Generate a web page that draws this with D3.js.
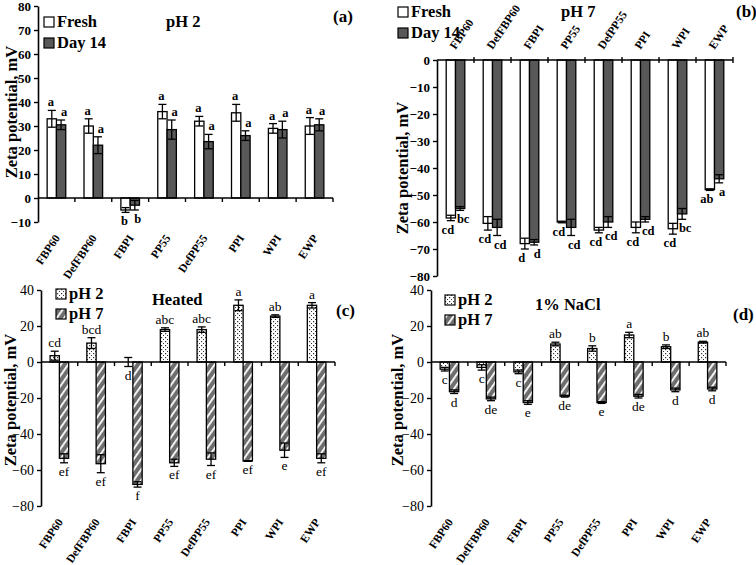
<!DOCTYPE html>
<html><head><meta charset="utf-8">
<script src="https://cdn.jsdelivr.net/npm/d3@7"></script>
<style>
body{margin:0;background:#fff;}
svg{font-family:"Liberation Serif","Times New Roman",serif;}
svg text{fill:#000;}
</style></head>
<body>
<svg id="c" width="756" height="565"></svg>
<script>
const categories = ["FBP60","DefFBP60","FBPI","PP55","DefPP55","PPI","WPI","EWP"];

// Panel (a) pH 2 storage
const aFresh    = [33, 30, -5, 36, 32, 35.5, 29, 30];
const aFreshErr = [3.5, 3, 1, 3, 2, 3.5, 2, 3.5];
const aDay14    = [30.5, 22, -3, 28.5, 23.5, 26, 28.5, 30.5];
const aDay14Err = [2, 3.5, 2, 4, 3, 2, 3.5, 2.5];
const aFreshLet = ["a","a","b","a","a","a","a","a"];
const aDayLet   = ["a","a","b","a","a","a","a","a"];

// Panel (b) pH 7 storage
const bFresh    = [-58.5, -60.5, -68, -60, -63, -62, -62.5, -48];
const bFreshErr = [1, 2.5, 2, 0.3, 1, 2, 2, 0.3];
const bDay14    = [-55, -62, -67.5, -62, -60, -59, -57, -44];
const bDay14Err = [0.7, 3, 1, 3, 2, 1, 2, 1.5];
const bFreshLet = ["cd","cd","d","cd","cd","cd","cd","ab"];
const bDayLet   = ["bc","cd","d","cd","cd","cd","bc","a"];

// Panel (c) heated
const cPH2     = [3.5, 10.5, 0, 18, 18, 31.5, 25.5, 31.5];
const cPH2Err  = [2.5, 3, 2.5, 1, 1.5, 3, 0.7, 1.5];
const cPH7     = [-53.5, -56.5, -68, -56, -54, -55, -49, -53.5];
const cPH7Err  = [2.5, 5, 1.5, 2, 3.5, 0.2, 4, 2.5];
const cPH2Let  = ["cd","bcd","d","abc","abc","a","ab","a"];
const cPH7Let  = ["ef","ef","f","ef","ef","ef","e","ef"];

// Panel (d) 1% NaCl
const dPH2     = [-4, -3, -5.5, 10, 7.5, 15, 8.5, 11];
const dPH2Err  = [1, 1.5, 1, 1, 1.5, 1.5, 1, 0.5];
const dPH7     = [-16.5, -20.5, -22.5, -19, -22.5, -19, -15.5, -15];
const dPH7Err  = [1, 1, 1, 0.5, 0.5, 1, 1, 1];
const dPH2Let  = ["c","c","c","ab","b","a","b","ab"];
const dPH7Let  = ["d","de","e","de","e","de","d","d"];

const ticksAB_a = [-10,0,10,20,30,40,50,60,70,80];
const ticksAB_b = [-80,-70,-60,-50,-40,-30,-20,-10,0];
const ticksCD   = [-80,-60,-40,-20,0,20,40];

const svg = d3.select("#c");
const defs = svg.append("defs");
// dotted pattern
const pd = defs.append("pattern").attr("id","dots").attr("patternUnits","userSpaceOnUse")
  .attr("width",4).attr("height",4);
pd.append("rect").attr("width",4).attr("height",4).attr("fill","#fff");
pd.append("rect").attr("x",1).attr("y",1).attr("width",1.2).attr("height",1.2).attr("fill","#333");
pd.append("rect").attr("x",3).attr("y",3).attr("width",1.2).attr("height",1.2).attr("fill","#333");
// stripe pattern
const ps = defs.append("pattern").attr("id","stripes").attr("patternUnits","userSpaceOnUse")
  .attr("width",6).attr("height",6).attr("patternTransform","rotate(35)");
ps.append("rect").attr("width",6).attr("height",6).attr("fill","#6e6e6e");
ps.append("rect").attr("x",0).attr("width",1.8).attr("height",6).attr("fill","#fff");

function panel(o){
  const g = svg.append("g");
  const x = d3.scaleBand().domain(categories).range([o.x0,o.x1]).paddingInner(0).paddingOuter(0);
  const y = d3.scaleLinear().domain(o.domain).range(o.yrange);
  const bw = 9.3;
  const sub = d3.scaleBand().domain([0,1]).range([-bw, bw]);
  const tickFont = o.boldTicks ? "bold" : "normal";
  // y axis
  const ya = g.append("g").attr("transform",`translate(${o.x0},0)`)
    .call(d3.axisLeft(y).tickValues(o.ticks).tickSize(4).tickSizeOuter(0).tickPadding(3));
  ya.attr("font-family",null);
  ya.select(".domain").attr("stroke","#000").attr("stroke-width",1.6);
  ya.selectAll("text").attr("font-size",o.tickSize).attr("font-weight",tickFont)
    .attr("font-family","Liberation Serif").attr("fill","#000");
  ya.selectAll("line").attr("stroke-width",1.4);
  // bars
  o.series.forEach((s,si)=>{
    s.vals.forEach((v,i)=>{
      const xc = x(categories[i]) + x.bandwidth()/2;
      const bx = xc + sub(si);
      const y0 = y(0), y1 = y(v);
      g.append("rect").attr("x",bx).attr("width",sub.bandwidth())
        .attr("y",Math.min(y0,y1)).attr("height",Math.abs(y1-y0))
        .attr("fill",s.fill).attr("stroke","#000").attr("stroke-width",1.3);
      const e = s.err[i];
      const cx = bx + sub.bandwidth()/2;
      const eg = g.append("g").attr("stroke","#000").attr("stroke-width",1.3);
      eg.append("line").attr("x1",cx).attr("x2",cx).attr("y1",y(v-e)).attr("y2",y(v+e));
      eg.append("line").attr("x1",cx-4).attr("x2",cx+4).attr("y1",y(v-e)).attr("y2",y(v-e));
      eg.append("line").attr("x1",cx-4).attr("x2",cx+4).attr("y1",y(v+e)).attr("y2",y(v+e));
      // letters
      const up = v >= 0.5;
      const ly = up ? y(v+e) - 4 : y(v-e) + 13;
      g.append("text").attr("x",cx + (o.letterDx?o.letterDx[si]:0)).attr("y",ly)
        .attr("text-anchor","middle").attr("font-size",o.letterSize).attr("fill","#000")
        .attr("font-weight",o.boldLetters?"bold":"normal").text(s.letters[i]);
    });
  });
  // x axis at zero
  const xa = g.append("g").attr("transform",`translate(0,${y(0)})`);
  xa.append("line").attr("x1",o.x0).attr("x2",o.x1).attr("stroke","#000").attr("stroke-width",1.6);
  categories.forEach((c,i)=>{
    const xt = x(c) + x.bandwidth();
    xa.append("line").attr("x1",xt).attr("x2",xt).attr("y1",o.labelsTop?-3:0).attr("y2",o.labelsTop?3:4)
      .attr("stroke","#000").attr("stroke-width",1.4);
  });
  // category labels
  categories.forEach((c,i)=>{
    const xc = x(c) + x.bandwidth()/2;
    if(o.labelsTop){
      g.append("text").attr("transform",`translate(${xc},${y(0)-10}) rotate(-56)`)
        .attr("text-anchor","start").attr("font-size",11.5).attr("font-weight","bold").attr("fill","#000").text(c);
    } else {
      g.append("text").attr("transform",`translate(${xc+4},${o.yrange[0]+16}) rotate(-56)`)
        .attr("text-anchor","end").attr("font-size",11.5).attr("font-weight","bold").attr("fill","#000").text(c);
    }
  });
  // y title
  g.append("text").attr("transform",`translate(${o.ytx},${o.yty}) rotate(-90)`)
    .attr("text-anchor","middle").attr("font-size",16.5).attr("font-weight","bold").attr("fill","#000").text("Zeta potential, mV");
  // legend
  o.series.forEach((s,si)=>{
    const ly = o.leg[1] + si*o.legStep;
    g.append("rect").attr("x",o.leg[0]).attr("y",ly-10).attr("width",10).attr("height",10)
      .attr("fill",s.fill).attr("stroke","#000").attr("stroke-width",1.2);
    g.append("text").attr("x",o.leg[0]+13).attr("y",ly).attr("font-size",16.5)
      .attr("font-weight","bold").attr("fill","#000").text(s.name);
  });
  g.append("text").attr("x",o.title[0]).attr("y",o.title[1]).attr("font-size",16.5)
    .attr("font-weight","bold").attr("fill","#000").text(o.titleText);
  g.append("text").attr("x",o.tag[0]).attr("y",o.tag[1]).attr("font-size",17)
    .attr("font-weight","bold").attr("fill","#000").text(o.tagText);
}

const dark = "#585858";
panel({x0:38,x1:333,domain:[-10,80],yrange:[222,6],ticks:ticksAB_a,boldTicks:true,tickSize:13,
  boldLetters:true,letterSize:12.5,letterDx:[-1,3],
  series:[{name:"Fresh",vals:aFresh,err:aFreshErr,fill:"#fff",letters:aFreshLet},
          {name:"Day 14",vals:aDay14,err:aDay14Err,fill:dark,letters:aDayLet}],
  ytx:17,yty:112,leg:[44,27],legStep:21,title:[166,27],titleText:"pH 2",tag:[333,22],tagText:"(a)"});
panel({x0:437,x1:733,domain:[-80,0],yrange:[276,60],ticks:ticksAB_b,boldTicks:true,tickSize:13,
  boldLetters:true,letterSize:12.5,letterDx:[-3,3],labelsTop:true,
  series:[{name:"Fresh",vals:bFresh,err:bFreshErr,fill:"#fff",letters:bFreshLet},
          {name:"Day 14",vals:bDay14,err:bDay14Err,fill:dark,letters:bDayLet}],
  ytx:408,yty:168,leg:[398,17],legStep:21,title:[561,17],titleText:"pH 7",tag:[736,17],tagText:"(b)"});
panel({x0:41,x1:335,domain:[-80,40],yrange:[506,290],ticks:ticksCD,boldTicks:false,tickSize:14,
  boldLetters:false,letterSize:13.5,
  series:[{name:"pH 2",vals:cPH2,err:cPH2Err,fill:"url(#dots)",letters:cPH2Let},
          {name:"pH 7",vals:cPH7,err:cPH7Err,fill:"url(#stripes)",letters:cPH7Let}],
  ytx:16,yty:400,leg:[56,299],legStep:20,title:[152,305],titleText:"Heated",tag:[336,316],tagText:"(c)"});
panel({x0:431,x1:726,domain:[-80,40],yrange:[506,290],ticks:ticksCD,boldTicks:false,tickSize:14,
  boldLetters:false,letterSize:13.5,
  series:[{name:"pH 2",vals:dPH2,err:dPH2Err,fill:"url(#dots)",letters:dPH2Let},
          {name:"pH 7",vals:dPH7,err:dPH7Err,fill:"url(#stripes)",letters:dPH7Let}],
  ytx:403,yty:400,leg:[445,305],legStep:20,title:[535,310],titleText:"1% NaCl",tag:[733,320],tagText:"(d)"});
</script>
</body></html>
